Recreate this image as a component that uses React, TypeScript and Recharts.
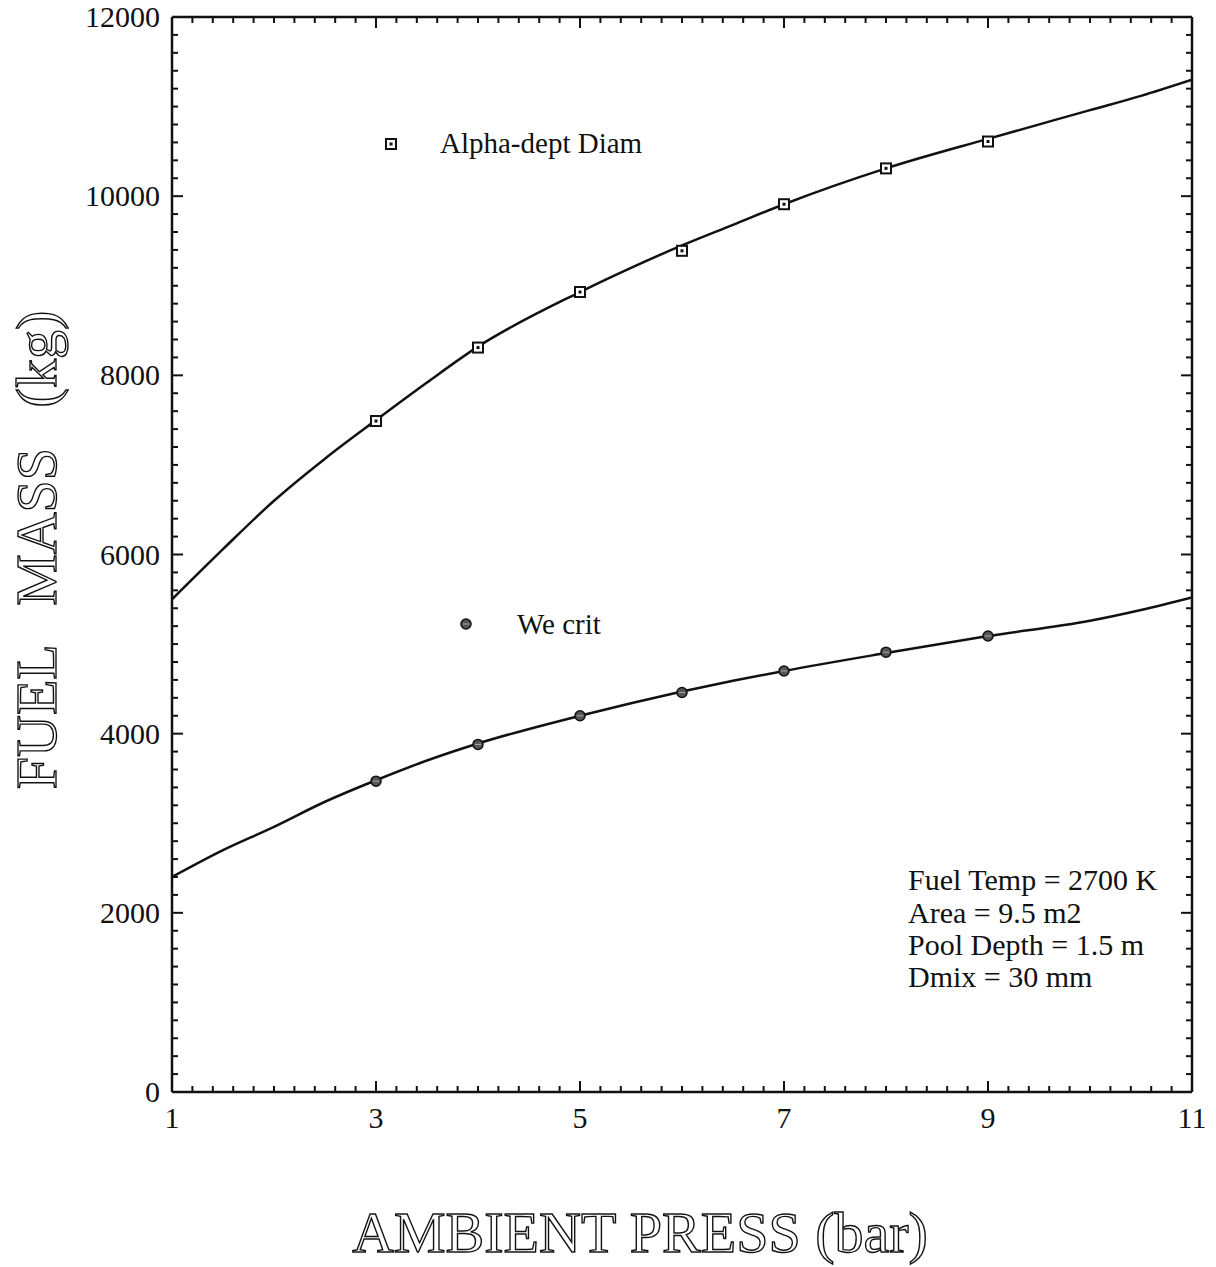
import { ComposedChart, Line, Scatter, XAxis, YAxis } from "recharts";

// curve sample points (bar -> kg)
const LINE_X = [1, 1.5, 2, 2.5, 3, 3.5, 4, 5, 5.5, 6, 6.5, 7, 8, 9, 10, 10.5, 11];
const ALPHA_LINE = [5500, 6060, 6600, 7070, 7500, 7920, 8320, 8930, 9200, 9450, 9680, 9910, 10310, 10640, 10960, 11120, 11300];
const WE_LINE = [2400, 2700, 2960, 3240, 3480, 3700, 3890, 4200, 4340, 4470, 4590, 4700, 4900, 5090, 5260, 5380, 5520];

// plotted markers
const MARK_X = [3, 4, 5, 6, 7, 8, 9];
const ALPHA_MARKS = [7490, 8310, 8930, 9390, 9910, 10310, 10610];
const WE_MARKS = [3470, 3880, 4200, 4460, 4700, 4910, 5090];

const X_LABELS = [1, 3, 5, 7, 9, 11];
const Y_LABELS = [0, 2000, 4000, 6000, 8000, 10000, 12000];
const X_TICKS = Array.from({ length: 51 }, (_, i) => Math.round((1 + i * 0.2) * 10) / 10);
const Y_TICKS = Array.from({ length: 61 }, (_, i) => i * 200);

const alphaLine = LINE_X.map((x, i) => ({ x, y: ALPHA_LINE[i] }));
const weLine = LINE_X.map((x, i) => ({ x, y: WE_LINE[i] }));
const alphaMarks = MARK_X.map((x, i) => ({ x, y: ALPHA_MARKS[i] }));
const weMarks = MARK_X.map((x, i) => ({ x, y: WE_MARKS[i] }));

const FONT = "'Liberation Serif', 'Times New Roman', serif";
const INK = "#111";

const isMajorX = (v: number) => X_LABELS.some((m) => Math.abs(m - v) < 1e-6);
const isMajorY = (v: number) => Y_LABELS.includes(v);

const BottomTick = ({ x, y, payload }: any) => {
  const major = isMajorX(payload.value);
  return (
    <g>
      <line x1={x} x2={x} y1={y} y2={y - (major ? 11 : 6)} stroke={INK} strokeWidth={2} />
      {major && (
        <text x={x} y={y + 36} textAnchor="middle" fontFamily={FONT} fontSize={30} fill={INK}>
          {payload.value}
        </text>
      )}
    </g>
  );
};

const TopTick = ({ x, y, payload }: any) => {
  const major = isMajorX(payload.value);
  return <line x1={x} x2={x} y1={y} y2={y + (major ? 11 : 6)} stroke={INK} strokeWidth={2} />;
};

const LeftTick = ({ x, y, payload }: any) => {
  const major = isMajorY(payload.value);
  return (
    <g>
      <line x1={x} x2={x + (major ? 11 : 6)} y1={y} y2={y} stroke={INK} strokeWidth={2} />
      {major && (
        <text x={x - 12} y={y + 10} textAnchor="end" fontFamily={FONT} fontSize={30} fill={INK}>
          {payload.value}
        </text>
      )}
    </g>
  );
};

const RightTick = ({ x, y, payload }: any) => {
  const major = isMajorY(payload.value);
  return <line x1={x} x2={x - (major ? 11 : 6)} y1={y} y2={y} stroke={INK} strokeWidth={2} />;
};

const SquareMark = ({ cx, cy }: any) => (
  <g>
    <rect x={cx - 5} y={cy - 5} width={10} height={10} fill="#fff" stroke={INK} strokeWidth={2} />
    <rect x={cx - 1.5} y={cy - 1.5} width={3} height={3} fill={INK} />
  </g>
);

const DotMark = ({ cx, cy }: any) => (
  <g>
    <circle cx={cx} cy={cy} r={5} fill="#555" stroke={INK} strokeWidth={1.5} />
    <line x1={cx - 3} x2={cx + 3} y1={cy} y2={cy} stroke="#aaa" strokeWidth={1} />
  </g>
);

const axisLine = { stroke: INK, strokeWidth: 2.5 };

export default function App() {
  return (
    <div style={{ position: "absolute", left: 0, top: 0, width: 1216, height: 1267, background: "#fff" }}>
      <ComposedChart width={1216} height={1267} margin={{ top: 12, right: 19, bottom: 135, left: 92 }}>
        <XAxis
          xAxisId="b"
          dataKey="x"
          type="number"
          domain={[1, 11]}
          ticks={X_TICKS}
          interval={0}
          height={40}
          tickSize={0}
          tickMargin={0}
          tickLine={false}
          axisLine={axisLine}
          tick={<BottomTick />}
          allowDataOverflow
        />
        <XAxis
          xAxisId="t"
          dataKey="x"
          orientation="top"
          type="number"
          domain={[1, 11]}
          ticks={X_TICKS}
          interval={0}
          height={5}
          tickSize={0}
          tickMargin={0}
          tickLine={false}
          axisLine={axisLine}
          tick={<TopTick />}
          allowDataOverflow
        />
        <YAxis
          yAxisId="l"
          dataKey="y"
          type="number"
          domain={[0, 12000]}
          ticks={Y_TICKS}
          interval={0}
          width={80}
          tickSize={0}
          tickMargin={0}
          tickLine={false}
          axisLine={axisLine}
          tick={<LeftTick />}
          allowDataOverflow
        />
        <YAxis
          yAxisId="r"
          dataKey="y"
          orientation="right"
          type="number"
          domain={[0, 12000]}
          ticks={Y_TICKS}
          interval={0}
          width={5}
          tickSize={0}
          tickMargin={0}
          tickLine={false}
          axisLine={axisLine}
          tick={<RightTick />}
          allowDataOverflow
        />
        <Line xAxisId="b" yAxisId="l" data={alphaLine} dataKey="y" type="monotone" stroke={INK} strokeWidth={2.5} dot={false} isAnimationActive={false} />
        <Line xAxisId="t" yAxisId="r" data={weLine} dataKey="y" type="monotone" stroke={INK} strokeWidth={2.5} dot={false} isAnimationActive={false} />
        <Scatter xAxisId="b" yAxisId="l" data={alphaMarks} dataKey="y" shape={(p: any) => <SquareMark cx={p.cx} cy={p.cy} />} isAnimationActive={false} />
        <Scatter xAxisId="b" yAxisId="l" data={weMarks} dataKey="y" shape={(p: any) => <DotMark cx={p.cx} cy={p.cy} />} isAnimationActive={false} />
      </ComposedChart>

      <svg width={1216} height={1267} style={{ position: "absolute", left: 0, top: 0, pointerEvents: "none" }}>
        <SquareMark cx={391} cy={144} />
        <text x={440} y={153} fontFamily={FONT} fontSize={29} fill={INK}>Alpha-dept Diam</text>
        <DotMark cx={466} cy={624} />
        <text x={517} y={634} fontFamily={FONT} fontSize={29} fill={INK}>We crit</text>
        <g fontFamily={FONT} fontSize={30} fill={INK}>
          <text x={908} y={890}>Fuel Temp = 2700 K</text>
          <text x={908} y={923}>Area = 9.5 m2</text>
          <text x={908} y={955}>Pool Depth = 1.5 m</text>
          <text x={908} y={987}>Dmix = 30 mm</text>
        </g>
        <text
          x={640}
          y={1252}
          textAnchor="middle"
          fontFamily={FONT}
          fontSize={58}
          fill="#fff"
          stroke={INK}
          strokeWidth={1.4}
        >
          AMBIENT PRESS (bar)
        </text>
        <text
          transform="translate(56,550) rotate(-90)"
          textAnchor="middle"
          fontFamily={FONT}
          fontSize={58}
          wordSpacing={26}
          fill="#fff"
          stroke={INK}
          strokeWidth={1.4}
        >
          FUEL MASS (kg)
        </text>
      </svg>
    </div>
  );
}
